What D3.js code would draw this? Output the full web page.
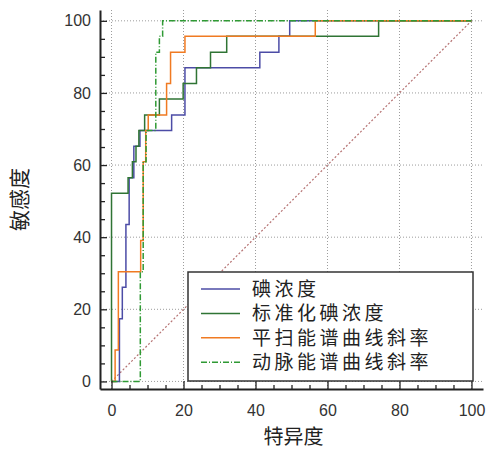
<!DOCTYPE html>
<html>
<head>
<meta charset="utf-8">
<script src="https://cdn.jsdelivr.net/npm/d3@7"></script>
<style>
  body { margin: 0; background: #fff; }
  svg { display: block; }
</style>
</head>
<body>
<div id="chart"></div>
<script>
// ROC vertices [100-特异度, 敏感度]; the curve steps right, then up to each point
const iodine     = [[0,0],[2.2,17.4],[3.0,26.1],[4.0,43.5],[4.9,56.5],[6.2,65.2],[7.9,69.6],[16.7,73.9],[20.4,87.0],[41.2,91.3],[46.5,95.7],[49.5,100],[100,100]];
const normIodine = [[0,0],[0,52.2],[4.6,56.5],[5.8,60.9],[6.8,65.2],[7.6,69.6],[9.2,73.9],[13.3,78.3],[19.9,82.6],[23.6,87.0],[27.5,91.3],[32.0,95.7],[74.2,100],[100,100]];
const plainSlope = [[0,0],[1.0,8.7],[1.9,30.4],[8.1,39.1],[8.8,60.9],[9.5,69.6],[10.2,73.9],[15.3,82.6],[16.4,91.3],[20.4,95.7],[56.6,100],[100,100]];
const arterSlope = [[0,0],[8.0,30.4],[8.8,60.9],[9.6,69.6],[12.3,91.3],[13.3,95.7],[14.2,100],[100,100]];
const refLine    = [[0,0],[100,100]];

const seriesNames = ["碘浓度", "标准化碘浓度", "平扫能谱曲线斜率", "动脉能谱曲线斜率"];
const majorTicks = [0, 20, 40, 60, 80, 100];
const allTicks = [0, 5, 10, 15, 20, 25, 30, 35, 40, 45, 50, 55, 60, 65, 70, 75, 80, 85, 90, 95, 100];

const width = 488, height = 450;
const margin = { top: 10, right: 5, bottom: 61, left: 100 };
const cjk = "'Noto Sans CJK SC', sans-serif";
const num = "Arial, 'Liberation Sans', sans-serif";

const styles = [
    { color: "#4c4ca6", dash: null },
    { color: "#2f7434", dash: null },
    { color: "#f07a22", dash: null },
    { color: "#2f9a34", dash: "6 2 1 2" }
];

const svg = d3.select("#chart").append("svg")
    .attr("width", width)
    .attr("height", height)
    .style("background", "#fff");

const x = d3.scaleLinear().domain([-3.2, 103.2]).range([margin.left, width - margin.right]);
const y = d3.scaleLinear().domain([-2.1, 103]).range([height - margin.bottom, margin.top]);

// dotted grid
svg.append("g").selectAll("line")
    .data(majorTicks).enter().append("line")
    .attr("x1", d => x(d)).attr("x2", d => x(d))
    .attr("y1", margin.top).attr("y2", height - margin.bottom)
    .attr("stroke", "#9c9c9c").attr("stroke-dasharray", "1 2");
svg.append("g").selectAll("line")
    .data(majorTicks).enter().append("line")
    .attr("y1", d => y(d)).attr("y2", d => y(d))
    .attr("x1", margin.left).attr("x2", width - margin.right)
    .attr("stroke", "#9c9c9c").attr("stroke-dasharray", "1 2");

// diagonal
svg.append("line")
    .attr("x1", x(refLine[0][0])).attr("y1", y(refLine[0][1]))
    .attr("x2", x(refLine[1][0])).attr("y2", y(refLine[1][1]))
    .attr("stroke", "#b57272").attr("stroke-width", 1.2)
    .attr("stroke-dasharray", "2 2");

const line = d3.line()
    .x(d => x(d[0]))
    .y(d => y(d[1]))
    .curve(d3.curveStepAfter);

[iodine, normIodine, plainSlope, arterSlope].forEach((data, i) => {
    svg.append("path")
        .datum(data)
        .attr("fill", "none")
        .attr("stroke", styles[i].color)
        .attr("stroke-width", 1.5)
        .attr("stroke-dasharray", styles[i].dash)
        .attr("d", line);
});

// axes
const xAxis = svg.append("g")
    .attr("transform", `translate(0,${height - margin.bottom})`)
    .call(d3.axisBottom(x).tickValues(allTicks).tickSizeInner(-4).tickSizeOuter(0).tickPadding(16)
        .tickFormat(d => majorTicks.includes(d) ? d : ""));
xAxis.selectAll(".tick line").filter(d => majorTicks.includes(d)).attr("y2", -8);

const yAxis = svg.append("g")
    .attr("transform", `translate(${margin.left},0)`)
    .call(d3.axisLeft(y).tickValues(allTicks).tickSizeInner(-5).tickSizeOuter(0).tickPadding(9)
        .tickFormat(d => majorTicks.includes(d) ? d : ""));
yAxis.selectAll(".tick line").filter(d => majorTicks.includes(d)).attr("x2", 7);

[xAxis, yAxis].forEach(g => {
    g.select(".domain").attr("stroke", "#222").attr("stroke-width", 2);
    g.selectAll(".tick line").attr("stroke", "#222").attr("stroke-width", 1.3);
    g.selectAll(".tick text").attr("fill", "#333").style("font", `16px ${num}`);
});

// titles
svg.append("text")
    .attr("x", (margin.left + width - margin.right) / 2 + 2)
    .attr("y", 444)
    .attr("text-anchor", "middle")
    .attr("fill", "#222")
    .style("font", `20px ${cjk}`)
    .text("特异度");

svg.append("text")
    .attr("transform", `translate(27,${(margin.top + height - margin.bottom) / 2}) rotate(-90)`)
    .attr("text-anchor", "middle")
    .attr("fill", "#222")
    .style("font", `21px ${cjk}`)
    .text("敏感度");

// legend
const legend = svg.append("g").attr("transform", "translate(188,272)");
legend.append("rect")
    .attr("width", 285).attr("height", 109)
    .attr("fill", "#fff").attr("stroke", "#333").attr("stroke-width", 1.5);

const rows = legend.selectAll(".row")
    .data(seriesNames).enter().append("g")
    .attr("class", "row")
    .attr("transform", (d, i) => `translate(0,${17 + i * 24.4})`);
rows.append("line")
    .attr("x1", 13).attr("x2", 52)
    .attr("stroke", (d, i) => styles[i].color)
    .attr("stroke-width", 1.5)
    .attr("stroke-dasharray", (d, i) => styles[i].dash);
rows.append("text")
    .attr("x", 64).attr("y", 7)
    .attr("fill", "#222")
    .style("font", `19px ${cjk}`)
    .style("letter-spacing", "3.5px")
    .text(d => d);
</script>
</body>
</html>
